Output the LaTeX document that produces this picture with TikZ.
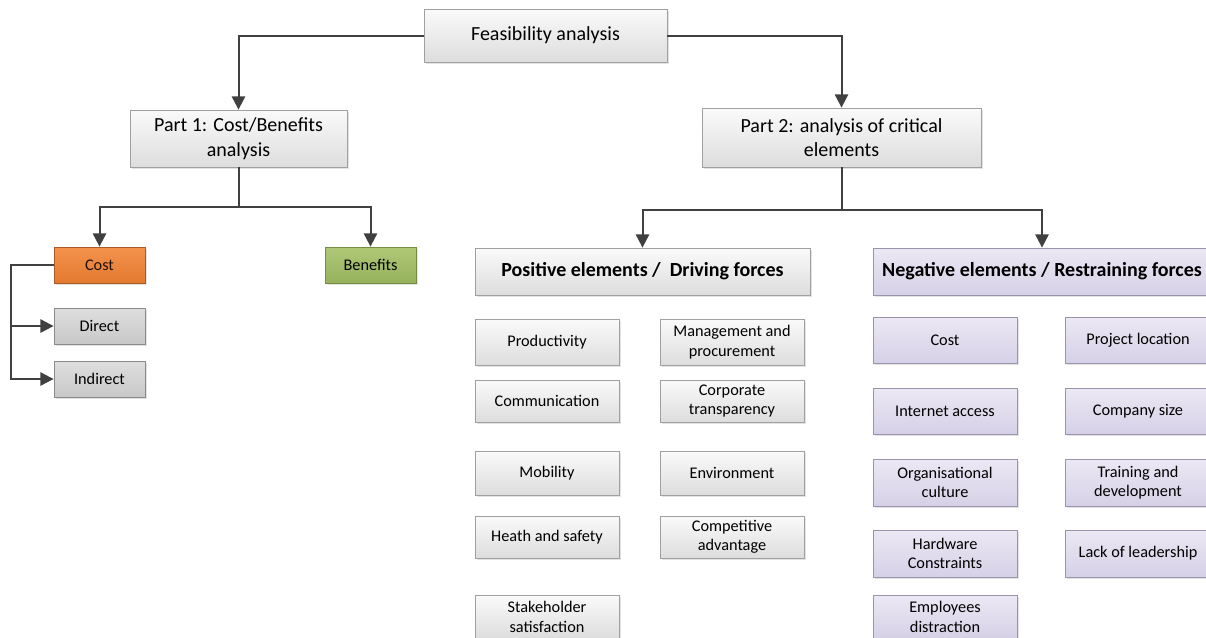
\documentclass[tikz,border=0pt]{standalone}
\usepackage{fontspec}
\setmainfont{Carlito}
\usetikzlibrary{arrows.meta,shadows}

\definecolor{linegray}{HTML}{404040}
\definecolor{boxtop}{HTML}{FAFAFA}
\definecolor{boxbot}{HTML}{DDDDDD}
\definecolor{boxedge}{HTML}{A0A0A0}
\definecolor{costtop}{HTML}{F3924C}
\definecolor{costbot}{HTML}{E47A30}
\definecolor{costedge}{HTML}{A85A24}
\definecolor{bentop}{HTML}{AEC877}
\definecolor{benbot}{HTML}{97B25D}
\definecolor{benedge}{HTML}{748C44}
\definecolor{subtop}{HTML}{DEDEDE}
\definecolor{subbot}{HTML}{C8C8C8}
\definecolor{subedge}{HTML}{8A8A8A}
\definecolor{negtop}{HTML}{ECE8F4}
\definecolor{negbot}{HTML}{D6D0E6}
\definecolor{negedge}{HTML}{9A93AA}

\tikzset{
  base/.style={draw, line width=0.6pt, inner sep=0pt, align=center,
    drop shadow={shadow xshift=1.6pt, shadow yshift=-1.6pt, opacity=0.22, fill=gray}},
  plainbox/.style={base, draw=boxedge, top color=boxtop, bottom color=boxbot},
  costbox/.style={base, draw=costedge, top color=costtop, bottom color=costbot, text=black!85!brown},
  benbox/.style={base, draw=benedge, top color=bentop, bottom color=benbot},
  subbox/.style={base, draw=subedge, top color=subtop, bottom color=subbot},
  negbox/.style={base, draw=negedge, top color=negtop, bottom color=negbot},
  big/.style={font=\fontsize{15pt}{18.5pt}\selectfont},
  small/.style={font=\fontsize{12.2pt}{14.5pt}\selectfont},
  head/.style={font=\fontsize{15pt}{18pt}\selectfont\bfseries},
  conn/.style={draw=linegray, line width=1.5pt},
  arr/.style={conn, -{Triangle[length=10pt,width=10pt]}},
}

% box given by its corners in pixel units: name, x1, y1, x2, y2, style, text
\newcommand\pbox[7]{%
  \node[#6, minimum width={(#4-#2)*0.75pt}, minimum height={(#5-#3)*0.75pt}]
    (#1) at ({(#2+#4)/2},{(#3+#5)/2}) {#7};}

\begin{document}
\begin{tikzpicture}[x=0.75pt, y=-0.75pt]
\useasboundingbox (0,0) rectangle (1206,637);
\begin{scope}
\clip (0,0) rectangle (1206,637);

% top level
\pbox{feas}{424}{9}{667}{62}{plainbox,big}{Feasibility analysis}
\pbox{p1}{130}{110}{347}{167}{plainbox,big}{Part 1: Cost/Benefits\\analysis}
\pbox{p2}{702}{108}{981}{167}{plainbox,big}{Part 2: analysis of critical\\elements}

% part 1
\pbox{cost}{54}{247}{145}{283}{costbox,small}{Cost}
\pbox{ben}{325}{247}{416}{283}{benbox,small}{Benefits}
\pbox{direct}{54}{308}{145}{344}{subbox,small}{Direct}
\pbox{indirect}{54}{361}{145}{397}{subbox,small}{Indirect}

% part 2 headers
\pbox{pos}{475}{248}{810}{295}{plainbox,head}{Positive elements /\ \ Driving forces}
\pbox{neg}{873}{248}{1211}{295}{negbox,head}{Negative elements / Restraining forces}

% positive elements
\pbox{prod}{475}{319}{619}{365}{plainbox,small}{Productivity}
\pbox{mgmt}{660}{319}{804}{365}{plainbox,small}{Management and\\procurement}
\pbox{comm}{475}{380}{619}{422}{plainbox,small}{Communication}
\pbox{corp}{660}{380}{804}{422}{plainbox,small}{Corporate\\transparency}
\pbox{mob}{475}{451}{619}{495}{plainbox,small}{Mobility}
\pbox{env}{660}{451}{804}{495}{plainbox,small}{Environment}
\pbox{heath}{475}{516}{619}{558}{plainbox,small}{Heath and safety}
\pbox{comp}{660}{516}{804}{558}{plainbox,small}{Competitive\\advantage}
\pbox{stake}{475}{595}{619}{638.5}{plainbox,small}{Stakeholder\\satisfaction}

% negative elements
\pbox{ncost}{873}{317}{1017}{363}{negbox,small}{Cost}
\pbox{proj}{1065}{317}{1211}{363}{negbox,small}{Project location}
\pbox{inet}{873}{388}{1017}{434}{negbox,small}{Internet access}
\pbox{csize}{1065}{388}{1211}{434}{negbox,small}{Company size}
\pbox{org}{873}{459}{1017}{506}{negbox,small}{Organisational\\culture}
\pbox{train}{1065}{459}{1211}{506}{negbox,small}{Training and\\development}
\pbox{hw}{873}{530}{1017}{577}{negbox,small}{Hardware\\Constraints}
\pbox{lack}{1065}{530}{1211}{577}{negbox,small}{Lack of leadership}
\pbox{emp}{873}{595}{1017}{638.5}{negbox,small}{Employees\\distraction}

% connectors
\coordinate (j1) at (238.5,207);
\coordinate (j2) at (841.5,210);
\coordinate (cx) at (11,0);

\draw[arr] (feas.west) -| (p1.north);
\draw[arr] (feas.east) -| (p2.north);

\draw[conn] (p1.south) -- (j1);
\draw[arr] (j1) -| (cost.north);
\draw[arr] (j1) -| (ben.north);

\draw[arr] (cost.west) -- (cost.west -| cx) |- (direct.west);
\draw[arr] (cost.west -| cx) |- (indirect.west);

\draw[conn] (p2.south) -- (j2);
\draw[arr] (j2) -| (pos.north);
\draw[arr] (j2) -| (neg.north);
\end{scope}
\end{tikzpicture}
\end{document}
